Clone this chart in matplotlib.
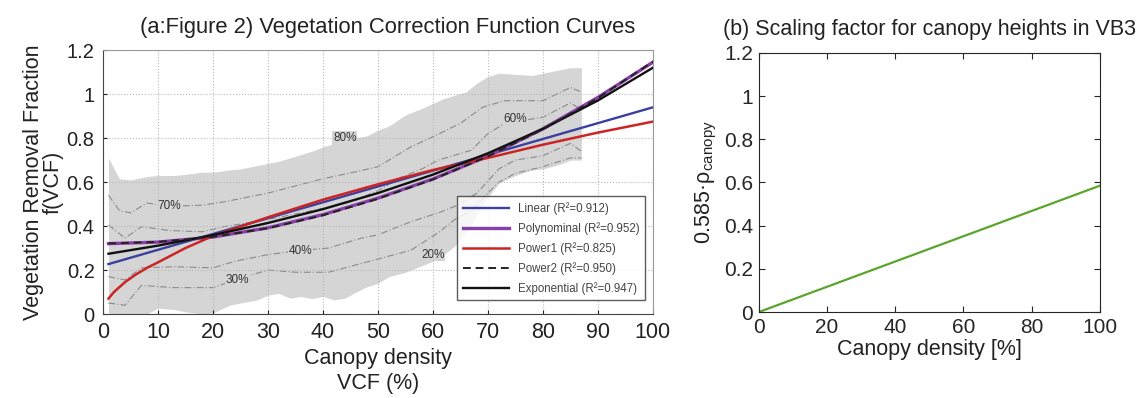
import matplotlib
matplotlib.use("Agg")
import matplotlib.pyplot as plt
from matplotlib.ticker import FormatStrFormatter

plt.rcParams['font.family'] = ['Liberation Sans', 'DejaVu Sans']
plt.rcParams['mathtext.fontset'] = 'custom'
plt.rcParams['mathtext.rm'] = 'Liberation Sans'
plt.rcParams['mathtext.it'] = 'Liberation Sans:italic'

# --- (a) fitted curves ---
fit_x = [1, 10, 20, 30, 40, 50, 60, 70, 80, 90, 100]
linear = [0.227, 0.292, 0.364, 0.436, 0.508, 0.580, 0.652, 0.724, 0.796, 0.868, 0.940]
poly = [0.320, 0.327, 0.350, 0.392, 0.452, 0.527, 0.614, 0.718, 0.842, 0.985, 1.145]
power2 = [0.321, 0.328, 0.351, 0.390, 0.449, 0.524, 0.612, 0.717, 0.840, 0.982, 1.148]
expo = [0.274, 0.311, 0.359, 0.414, 0.477, 0.550, 0.634, 0.731, 0.842, 0.971, 1.120]
power1_x = [1, 2, 4, 6, 8, 10, 15, 20, 30, 40, 50, 60, 70, 80, 90, 100]
power1 = [0.07, 0.10, 0.145, 0.18, 0.21, 0.235, 0.30, 0.355, 0.44, 0.52, 0.59, 0.655, 0.71, 0.77, 0.825, 0.875]

# grey envelope of observations
band_x = [1, 2, 3, 5, 8, 10, 13, 15, 18, 20, 23, 25, 28, 30, 32, 34, 36, 38, 40, 42,
          44, 46, 48, 50, 52, 55, 58, 60, 62, 64, 66, 68, 70, 72, 75, 78, 80, 83, 85, 87]
band_hi = [0.71, 0.66, 0.615, 0.61, 0.625, 0.63, 0.63, 0.635, 0.645, 0.645, 0.655, 0.66,
           0.675, 0.685, 0.695, 0.71, 0.725, 0.74, 0.76, 0.775, 0.79, 0.80, 0.81, 0.836,
           0.855, 0.905, 0.935, 0.958, 0.98, 0.995, 1.01, 1.05, 1.08, 1.095, 1.09, 1.085,
           1.095, 1.11, 1.12, 1.12]
band_lo = [0.0, 0.0, 0.0, 0.0, 0.0, 0.027, 0.02, 0.01, 0.0, 0.005, 0.04, 0.05, 0.064,
           0.086, 0.094, 0.072, 0.08, 0.07, 0.08, 0.064, 0.072, 0.10, 0.124, 0.14, 0.17,
           0.19, 0.22, 0.24, 0.27, 0.31, 0.37, 0.45, 0.53, 0.595, 0.63, 0.655, 0.66, 0.68,
           0.70, 0.70]

# percentile contour lines
p1_x = [1, 3, 5, 8, 12, 18, 22, 30, 40, 46, 50, 56, 60, 65, 69, 73, 80, 85, 87]
p1_y = [0.54, 0.47, 0.46, 0.505, 0.49, 0.495, 0.51, 0.55, 0.615, 0.647, 0.67, 0.76,
        0.806, 0.867, 0.94, 0.97, 0.97, 1.03, 1.01]
p2_x = [1, 4, 7, 12, 18, 22, 30, 40, 45, 50, 54, 58, 61, 67, 70, 73, 80, 85, 87]
p2_y = [0.405, 0.345, 0.397, 0.38, 0.374, 0.397, 0.43, 0.48, 0.51, 0.56, 0.62, 0.66,
        0.70, 0.745, 0.82, 0.866, 0.895, 0.96, 0.93]
p3_x = [1, 4, 7, 13, 20, 24, 30, 36, 41, 47, 50, 56, 61, 65, 68, 72, 75, 80, 85, 87]
p3_y = [0.17, 0.155, 0.21, 0.215, 0.21, 0.24, 0.27, 0.29, 0.30, 0.345, 0.36, 0.42, 0.46,
        0.50, 0.55, 0.66, 0.70, 0.72, 0.776, 0.74]
p4_x = [1, 4, 7, 13, 20, 24, 30, 35, 41, 47, 50, 56, 61, 64, 67, 70, 72, 75, 80, 85, 87]
p4_y = [0.05, 0.04, 0.13, 0.12, 0.12, 0.155, 0.20, 0.19, 0.19, 0.23, 0.25, 0.29, 0.37,
        0.43, 0.47, 0.55, 0.60, 0.64, 0.67, 0.71, 0.71]
pct_labels = ['80%', '70%', '60%', '40%', '30%', '20%']
pct_x = [44, 12, 75, 36, 24.5, 60]
pct_y = [0.80, 0.49, 0.886, 0.285, 0.155, 0.27]

# --- (b) scaling factor ---
density = [0, 100]
scaling = [0.0, 0.585]

fig = plt.figure(figsize=(11.48, 3.98), dpi=100)
ax1 = fig.add_axes([0.0897, 0.211, 0.479, 0.663])
ax2 = fig.add_axes([0.661, 0.216, 0.297, 0.651])

narrow = ['Liberation Sans Narrow', 'Liberation Sans', 'DejaVu Sans']

# panel a
ax1.fill_between(band_x, band_lo, band_hi, color='#d5d5d5', lw=0, zorder=1)
for px, py in [(p1_x, p1_y), (p2_x, p2_y), (p3_x, p3_y), (p4_x, p4_y)]:
    ax1.plot(px, py, color='#8a8a8a', lw=0.8, ls=(0, (6, 2, 1, 2)), zorder=1.2)
for lab, tx, ty in zip(pct_labels, pct_x, pct_y):
    ax1.text(tx, ty, lab, fontsize=8.5, color='#333333', ha='center', va='center',
             family=narrow, zorder=1.3,
             bbox=dict(facecolor='#d5d5d5', edgecolor='none', pad=0.5))

ax1.plot(fit_x, linear, color='#3b3f9e', lw=1.7, label='Linear (R²=0.912)', zorder=3)
ax1.plot(fit_x, poly, color='#8a3fa8', lw=2.4, label='Polynominal (R²=0.952)', zorder=3)
ax1.plot(power1_x, power1, color='#cc2424', lw=1.8, label='Power1 (R²=0.825)', zorder=3)
ax1.plot(fit_x, power2, color='#222222', lw=1.4, ls=(0, (4, 2.5)),
         label='Power2 (R²=0.950)', zorder=4)
ax1.plot(fit_x, expo, color='#111111', lw=1.7, label='Exponential (R²=0.947)', zorder=3)

ax1.set_xlim(0, 100)
ax1.set_ylim(0, 1.2)
ax1.set_xticks(range(0, 101, 10))
ax1.set_yticks([0, 0.2, 0.4, 0.6, 0.8, 1.0, 1.2])
ax1.yaxis.set_major_formatter(FormatStrFormatter('%g'))
ax1.set_axisbelow('line')
ax1.grid(True, color='#b8b8b8', ls=':', lw=0.8)
ax1.tick_params(direction='in', length=3, labelsize=14.5, colors='#222222', pad=6)
for lbl in ax1.get_xticklabels():
    lbl.set_family(narrow)
    lbl.set_fontsize(15.5)
for side in ['top', 'right']:
    ax1.spines[side].set_color('#999999')
for side in ['left', 'bottom']:
    ax1.spines[side].set_color('#444444')

leg = ax1.legend(loc='lower right', fontsize=8.3, handlelength=4.0, frameon=True,
                 fancybox=False, edgecolor='#333333', borderpad=0.5, labelspacing=0.62,
                 bbox_to_anchor=(0.997, 0.03))
leg.get_frame().set_linewidth(1.0)
for t in leg.get_texts():
    t.set_color('#444444')

ax1.set_title('(a:Figure 2) Vegetation Correction Function Curves', fontsize=15.8,
              family=narrow, color='#222222', pad=12, x=0.518)
ax1.set_xlabel('Canopy density\nVCF (%)', fontsize=15.5, family=narrow, color='#222222',
               linespacing=1.3, labelpad=3)
ax1.set_ylabel('Vegetation Removal Fraction\nf(VCF)', fontsize=15.5, color='#222222',
               linespacing=0.95, labelpad=2)

# panel b
ax2.plot(density, scaling, color='#5aa52c', lw=1.6)
ax2.set_xlim(0, 100)
ax2.set_ylim(0, 1.2)
ax2.set_xticks(range(0, 101, 20))
ax2.set_yticks([0, 0.2, 0.4, 0.6, 0.8, 1.0, 1.2])
ax2.yaxis.set_major_formatter(FormatStrFormatter('%g'))
ax2.tick_params(direction='in', length=4, labelsize=15, colors='#262626',
                top=True, right=True, pad=4)
for s in ax2.spines.values():
    s.set_color('#262626')
    s.set_linewidth(0.8)
ax2.set_title('(b) Scaling factor for canopy heights in VB3', fontsize=15.5,
              color='#222222', pad=13)
ax2.set_xlabel('Canopy density [%]', fontsize=15.5, color='#222222', labelpad=2)
ax2.set_ylabel('0.585·ρ$_{\\mathrm{canopy}}$', fontsize=15.5, color='#222222',
               labelpad=4)

fig.savefig('out.png', dpi=100)
